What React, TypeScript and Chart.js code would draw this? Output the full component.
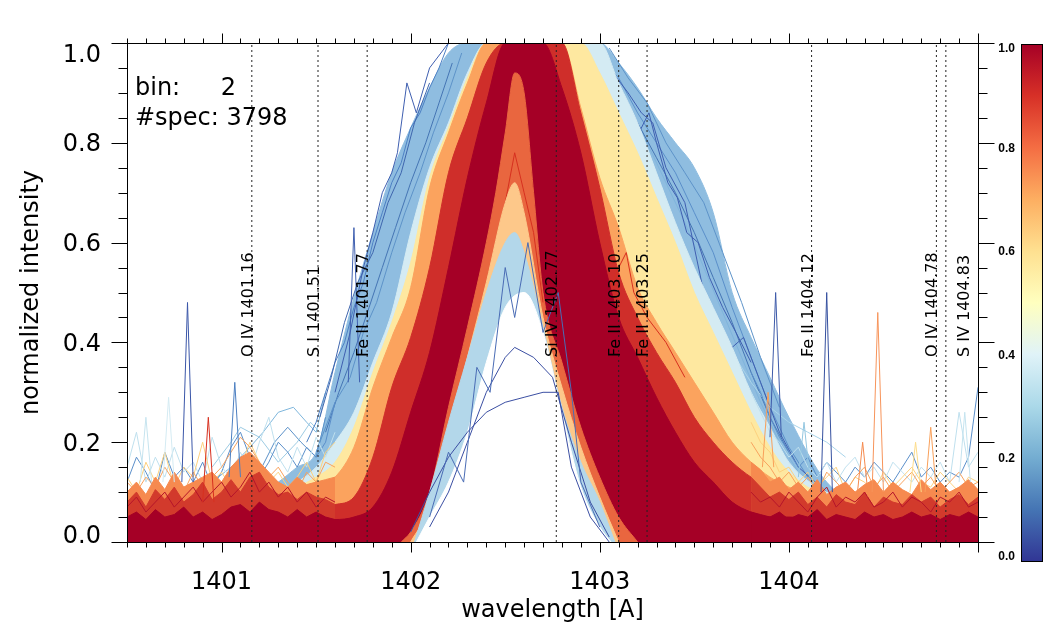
import React, { useEffect, useRef } from 'react';
import { Chart, registerables } from 'chart.js';

Chart.register(...registerables);

// wavelength grid shared by the band envelopes
const WL = [1400.5, 1400.7, 1400.9, 1401.1, 1401.3, 1401.4, 1401.5, 1401.6, 1401.7, 1401.8, 1401.9, 1402.0, 1402.1, 1402.2, 1402.3, 1402.4, 1402.5, 1402.6, 1402.7, 1402.8, 1402.9, 1403.0, 1403.1, 1403.2, 1403.3, 1403.4, 1403.5, 1403.6, 1403.7, 1403.8, 1403.9, 1404.0, 1404.2, 1404.5, 1404.8, 1405.0];

// upper envelopes of the colour groups (outer to inner)
const BAND_BLUE = [0.06, 0.06, 0.06, 0.08, 0.12, 0.15, 0.18, 0.34, 0.49, 0.62, 0.74, 0.83, 0.91, 0.98, 1, 1, 1, 1, 1, 1, 1, 1, 0.96, 0.91, 0.85, 0.8, 0.75, 0.66, 0.5, 0.41, 0.33, 0.25, 0.12, 0.06, 0.06, 0.06];
const BAND_LIGHT = [0.06, 0.06, 0.06, 0.07, 0.1, 0.12, 0.15, 0.2, 0.26, 0.36, 0.46, 0.62, 0.75, 0.84, 0.94, 1, 1, 1, 1, 1, 1, 1, 0.92, 0.84, 0.74, 0.64, 0.55, 0.47, 0.39, 0.3, 0.23, 0.16, 0.1, 0.06, 0.06, 0.06];
const BAND_YELLOW = [0.06, 0.06, 0.06, 0.07, 0.09, 0.11, 0.13, 0.16, 0.23, 0.34, 0.44, 0.56, 0.73, 0.83, 0.93, 1, 1, 1, 1, 1, 1, 0.94, 0.86, 0.78, 0.69, 0.6, 0.5, 0.42, 0.34, 0.26, 0.19, 0.14, 0.09, 0.06, 0.06, 0.06];
const BAND_ORANGE = [0.06, 0.06, 0.06, 0.07, 0.08, 0.09, 0.11, 0.13, 0.19, 0.31, 0.41, 0.51, 0.71, 0.82, 0.92, 1, 1, 1, 1, 1, 0.87, 0.73, 0.63, 0.51, 0.44, 0.38, 0.32, 0.26, 0.2, 0.16, 0.13, 0.11, 0.08, 0.06, 0.06, 0.06];
const BAND_RED = [0.05, 0.05, 0.05, 0.05, 0.055, 0.06, 0.07, 0.075, 0.09, 0.17, 0.31, 0.41, 0.55, 0.74, 0.85, 0.96, 1, 1, 1, 1, 0.86, 0.71, 0.54, 0.45, 0.38, 0.32, 0.25, 0.2, 0.16, 0.13, 0.11, 0.09, 0.07, 0.05, 0.05, 0.05];
const BAND_DARK = [0.04, 0.04, 0.04, 0.04, 0.04, 0.04, 0.045, 0.045, 0.05, 0.07, 0.14, 0.26, 0.38, 0.55, 0.73, 0.88, 1, 1, 1, 0.91, 0.78, 0.6, 0.45, 0.37, 0.29, 0.22, 0.16, 0.12, 0.08, 0.06, 0.05, 0.05, 0.045, 0.04, 0.04, 0.04];

// inside of the red "V"
const INNER_V_X = [1401.95, 1402.0, 1402.1, 1402.2, 1402.3, 1402.4, 1402.45, 1402.5, 1402.55, 1402.6, 1402.65, 1402.7, 1402.8, 1402.9, 1403.0, 1403.1, 1403.2];
const INNER_V_Y = [0, 0.02, 0.1, 0.27, 0.43, 0.6, 0.7, 0.82, 0.94, 0.9, 0.7, 0.5, 0.36, 0.23, 0.13, 0.05, 0];
const INNER_PALE_X = [1402.0, 1402.1, 1402.2, 1402.3, 1402.4, 1402.5, 1402.55, 1402.6, 1402.7, 1402.8, 1402.9, 1403.0, 1403.1];
const INNER_PALE_Y = [0, 0.07, 0.22, 0.37, 0.52, 0.68, 0.72, 0.66, 0.45, 0.31, 0.19, 0.09, 0];
const INNER_BLUE_X = [1402.02, 1402.1, 1402.2, 1402.3, 1402.4, 1402.5, 1402.55, 1402.6, 1402.7, 1402.8, 1402.9, 1403.0, 1403.08];
const INNER_BLUE_Y = [0, 0.1, 0.24, 0.37, 0.5, 0.6, 0.62, 0.58, 0.43, 0.27, 0.16, 0.08, 0];
const INNER_WHITE_X = [1402.03, 1402.1, 1402.2, 1402.3, 1402.4, 1402.5, 1402.6, 1402.7, 1402.8, 1402.9, 1403.0, 1403.06];
const INNER_WHITE_Y = [0, 0.05, 0.12, 0.22, 0.36, 0.47, 0.5, 0.42, 0.26, 0.11, 0.03, 0];

// single spectra on the flanks
const HUMP1_X = [1400.95, 1401.05, 1401.15, 1401.22, 1401.3, 1401.38, 1401.45, 1401.5, 1401.55];
const HUMP1_Y = [0.12, 0.15, 0.19, 0.22, 0.26, 0.27, 0.24, 0.22, 0.3];
const HUMP2_X = [1401.0, 1401.1, 1401.2, 1401.28, 1401.35, 1401.42, 1401.5, 1401.55];
const HUMP2_Y = [0.1, 0.17, 0.14, 0.2, 0.23, 0.2, 0.17, 0.25];
const HUMP3_X = [1400.95, 1401.05, 1401.1, 1401.2, 1401.3, 1401.4, 1401.47, 1401.52];
const HUMP3_Y = [0.15, 0.2, 0.23, 0.21, 0.16, 0.2, 0.24, 0.22];
const LEFT1_X = [1401.45, 1401.5, 1401.55, 1401.6, 1401.65, 1401.7, 1401.75, 1401.8, 1401.85, 1401.9, 1401.95, 1402.0, 1402.05, 1402.1, 1402.15, 1402.2];
const LEFT1_Y = [0.2, 0.24, 0.3, 0.36, 0.4, 0.47, 0.52, 0.6, 0.66, 0.72, 0.76, 0.83, 0.86, 0.91, 0.95, 1.0];
const LEFT2_X = [1401.6, 1401.68, 1401.75, 1401.8, 1401.85, 1401.9, 1401.93, 1401.98, 1402.03, 1402.1, 1402.2];
const LEFT2_Y = [0.3, 0.42, 0.55, 0.62, 0.7, 0.74, 0.78, 0.92, 0.86, 0.95, 1.0];
const LEFT3_X = [1401.55, 1401.62, 1401.7, 1401.78, 1401.85, 1401.92, 1402.0, 1402.08, 1402.15, 1402.22];
const LEFT3_Y = [0.22, 0.3, 0.38, 0.47, 0.55, 0.63, 0.72, 0.8, 0.88, 0.96];
const LEFT4_X = [1401.5, 1401.6, 1401.68, 1401.75, 1401.82, 1401.9, 1401.97, 1402.05, 1402.12, 1402.2, 1402.27];
const LEFT4_Y = [0.18, 0.28, 0.33, 0.42, 0.48, 0.58, 0.66, 0.74, 0.82, 0.9, 0.98];
const LEFT5_X = [1401.52, 1401.58, 1401.65, 1401.72, 1401.8, 1401.88, 1401.95, 1402.02, 1402.1];
const LEFT5_Y = [0.25, 0.33, 0.44, 0.52, 0.58, 0.68, 0.74, 0.84, 0.92];
const RIGHT1_X = [1402.95, 1403.05, 1403.15, 1403.22, 1403.28, 1403.35, 1403.45, 1403.55, 1403.62, 1403.7, 1403.76, 1403.85, 1403.95, 1404.05, 1404.2];
const RIGHT1_Y = [1.0, 0.95, 0.9, 0.86, 0.84, 0.75, 0.68, 0.5, 0.42, 0.39, 0.41, 0.32, 0.22, 0.15, 0.1];
const RIGHT2_X = [1403.0, 1403.1, 1403.2, 1403.3, 1403.4, 1403.5, 1403.6, 1403.7, 1403.8, 1403.9, 1404.0, 1404.1];
const RIGHT2_Y = [0.97, 0.93, 0.86, 0.8, 0.74, 0.66, 0.58, 0.47, 0.37, 0.27, 0.19, 0.13];
const RIGHT3_X = [1403.05, 1403.15, 1403.25, 1403.35, 1403.45, 1403.55, 1403.65, 1403.75, 1403.85, 1403.95, 1404.05];
const RIGHT3_Y = [0.95, 0.88, 0.8, 0.72, 0.64, 0.55, 0.46, 0.37, 0.28, 0.2, 0.14];
const RIGHT4_X = [1403.7, 1403.8, 1403.9, 1404.0, 1404.1, 1404.2, 1404.3];
const RIGHT4_Y = [0.38, 0.32, 0.27, 0.24, 0.22, 0.2, 0.17];
const RIGHT5_X = [1403.0, 1403.1, 1403.2, 1403.3, 1403.4, 1403.5, 1403.6, 1403.7, 1403.8, 1403.9, 1404.0];
const RIGHT5_Y = [0.95, 0.9, 0.84, 0.77, 0.7, 0.62, 0.53, 0.44, 0.34, 0.25, 0.18];
const RIGHT6_X = [1403.05, 1403.15, 1403.25, 1403.35, 1403.45, 1403.55, 1403.65, 1403.75, 1403.85, 1403.95];
const RIGHT6_Y = [0.99, 0.93, 0.88, 0.8, 0.74, 0.68, 0.58, 0.48, 0.37, 0.27];
const RIGHT7_X = [1403.1, 1403.18, 1403.26, 1403.3, 1403.36, 1403.41, 1403.46, 1403.52, 1403.58, 1403.65, 1403.72, 1403.8];
const RIGHT7_Y = [0.88, 0.8, 0.86, 0.8, 0.72, 0.69, 0.62, 0.6, 0.53, 0.47, 0.42, 0.36];
const FE_BUMP_X = [1403.0, 1403.05, 1403.1, 1403.14, 1403.18, 1403.25, 1403.35, 1403.45];
const FE_BUMP_Y = [0.6, 0.5, 0.55, 0.58, 0.5, 0.45, 0.4, 0.33];
const CORE_RED_X = [1402.4, 1402.45, 1402.5, 1402.55, 1402.6, 1402.65, 1402.7];
const CORE_RED_Y = [0.5, 0.6, 0.68, 0.78, 0.7, 0.62, 0.48];

// faint blue spectra in the line core
const WEAK1_X = [1402.0, 1402.1, 1402.2, 1402.3, 1402.4, 1402.5, 1402.6, 1402.7, 1402.78, 1402.85, 1402.95, 1403.05];
const WEAK1_Y = [0.02, 0.1, 0.17, 0.22, 0.26, 0.28, 0.29, 0.3, 0.3, 0.15, 0.05, 0.0];
const WEAK2_X = [1402.1, 1402.2, 1402.3, 1402.4, 1402.5, 1402.55, 1402.65, 1402.75, 1402.85, 1402.95, 1403.05];
const WEAK2_Y = [0.03, 0.1, 0.2, 0.3, 0.37, 0.39, 0.37, 0.33, 0.2, 0.08, 0.01];
const WEAK3_X = [1402.1, 1402.2, 1402.28, 1402.35, 1402.42, 1402.5, 1402.55, 1402.62, 1402.7, 1402.78, 1402.85, 1402.9, 1403.0];
const WEAK3_Y = [0.05, 0.18, 0.12, 0.35, 0.3, 0.55, 0.45, 0.6, 0.42, 0.5, 0.3, 0.12, 0.03];

// continuum noise, blue wing and red wing
const LW = [1400.5, 1400.55, 1400.6, 1400.65, 1400.7, 1400.75, 1400.8, 1400.85, 1400.9, 1400.95, 1401.0, 1401.05, 1401.1, 1401.15, 1401.2, 1401.25, 1401.3, 1401.35, 1401.4, 1401.45, 1401.5, 1401.55, 1401.6];
const LW_BLUE = [0.12, 0.17, 0.14, 0.1, 0.18, 0.13, 0.15, 0.12, 0.16, 0.11, 0.14, 0.19, 0.22, 0.17, 0.13, 0.16, 0.2, 0.18, 0.15, 0.19, 0.17, 0.2, 0.28];
const LW_LIGHT = [0.15, 0.22, 0.12, 0.17, 0.13, 0.19, 0.14, 0.16, 0.12, 0.21, 0.15, 0.13, 0.18, 0.14, 0.2, 0.25, 0.17, 0.14, 0.19, 0.15, 0.21, 0.17, 0.22];
const LW_YELLOW = [0.13, 0.1, 0.16, 0.12, 0.18, 0.11, 0.15, 0.13, 0.2, 0.12, 0.14, 0.11, 0.15, 0.2, 0.16, 0.12, 0.14, 0.11, 0.13, 0.16, 0.12, 0.18, 0.2];
const LW_ORANGE_LINE = [0.12, 0.1, 0.13, 0.11, 0.15, 0.12, 0.1, 0.14, 0.11, 0.13, 0.15, 0.18, 0.21, 0.19, 0.16, 0.13, 0.15, 0.12, 0.1, 0.14, 0.12, 0.16, 0.15];
const LW_ORANGE = [0.1, 0.12, 0.095, 0.13, 0.105, 0.14, 0.11, 0.12, 0.13, 0.14, 0.12, 0.15, 0.17, 0.18, 0.16, 0.14, 0.12, 0.11, 0.13, 0.115, 0.12, 0.125, 0.13];
const LW_RED = [0.08, 0.1, 0.07, 0.105, 0.085, 0.11, 0.08, 0.095, 0.12, 0.085, 0.1, 0.125, 0.1, 0.13, 0.14, 0.11, 0.095, 0.1, 0.085, 0.1, 0.09, 0.085, 0.075];
const LW_DARK = [0.05, 0.06, 0.045, 0.065, 0.05, 0.055, 0.07, 0.05, 0.06, 0.045, 0.055, 0.07, 0.075, 0.06, 0.08, 0.065, 0.06, 0.05, 0.065, 0.05, 0.06, 0.05, 0.045];
const LW_DARK_LINE = [0.07, 0.09, 0.06, 0.08, 0.1, 0.07, 0.09, 0.11, 0.08, 0.1, 0.12, 0.09, 0.11, 0.14, 0.1, 0.12, 0.09, 0.11, 0.08, 0.1, 0.07, 0.09, 0.08];

const RW = [1403.8, 1403.85, 1403.9, 1403.95, 1404.0, 1404.05, 1404.1, 1404.15, 1404.2, 1404.25, 1404.3, 1404.35, 1404.4, 1404.45, 1404.5, 1404.55, 1404.6, 1404.65, 1404.7, 1404.75, 1404.8, 1404.85, 1404.9, 1404.95, 1405.0];
const RW_BLUE = [0.34, 0.3, 0.25, 0.21, 0.18, 0.15, 0.17, 0.13, 0.16, 0.14, 0.12, 0.15, 0.13, 0.16, 0.14, 0.12, 0.15, 0.18, 0.13, 0.15, 0.12, 0.14, 0.13, 0.17, 0.31];
const RW_LIGHT = [0.3, 0.26, 0.22, 0.2, 0.17, 0.19, 0.15, 0.13, 0.16, 0.12, 0.15, 0.17, 0.13, 0.15, 0.12, 0.16, 0.14, 0.12, 0.15, 0.13, 0.16, 0.12, 0.26, 0.15, 0.18];
const RW_YELLOW = [0.24, 0.2, 0.18, 0.14, 0.15, 0.12, 0.14, 0.11, 0.13, 0.15, 0.1, 0.13, 0.12, 0.1, 0.14, 0.11, 0.13, 0.15, 0.12, 0.11, 0.14, 0.12, 0.1, 0.13, 0.12];
const RW_ORANGE_LINE = [0.2, 0.17, 0.15, 0.12, 0.14, 0.11, 0.13, 0.1, 0.14, 0.12, 0.1, 0.13, 0.15, 0.11, 0.13, 0.1, 0.12, 0.14, 0.11, 0.13, 0.1, 0.12, 0.14, 0.11, 0.12];
const RW_ORANGE = [0.16, 0.145, 0.12, 0.13, 0.105, 0.12, 0.1, 0.125, 0.095, 0.11, 0.12, 0.1, 0.115, 0.125, 0.1, 0.12, 0.105, 0.095, 0.125, 0.105, 0.12, 0.1, 0.11, 0.125, 0.105];
const RW_RED = [0.13, 0.11, 0.09, 0.1, 0.085, 0.1, 0.075, 0.09, 0.07, 0.095, 0.08, 0.075, 0.1, 0.07, 0.09, 0.08, 0.075, 0.095, 0.08, 0.09, 0.07, 0.085, 0.095, 0.075, 0.09];
const RW_DARK = [0.06, 0.055, 0.05, 0.06, 0.045, 0.055, 0.05, 0.065, 0.045, 0.055, 0.05, 0.045, 0.06, 0.05, 0.055, 0.045, 0.05, 0.06, 0.05, 0.055, 0.045, 0.055, 0.05, 0.06, 0.05];
const RW_DARK_LINE = [0.1, 0.08, 0.09, 0.07, 0.1, 0.08, 0.06, 0.09, 0.11, 0.07, 0.09, 0.08, 0.1, 0.07, 0.08, 0.1, 0.07, 0.09, 0.08, 0.06, 0.09, 0.08, 0.1, 0.07, 0.08];

// narrow spikes: centre, peak, base, colour
const SPIKE_AT = [1400.6, 1400.72, 1400.82, 1400.93, 1401.07, 1401.7, 1403.89, 1403.93, 1404.08, 1404.2, 1404.39, 1404.47, 1404.67, 1404.75, 1404.93];
const SPIKE_TOP = [0.25, 0.29, 0.48, 0.25, 0.32, 0.63, 0.3, 0.5, 0.24, 0.5, 0.2, 0.46, 0.2, 0.23, 0.26];
const SPIKE_BASE = [0.12, 0.12, 0.12, 0.08, 0.13, 0.32, 0.15, 0.21, 0.13, 0.1, 0.09, 0.1, 0.1, 0.1, 0.12];
const SPIKE_COLOR = ['#c6e4ef', '#d4ebf3', '#3a56a8', '#d7301f', '#4c7fc1', '#4060b0', '#f9a05a', '#3d5aa9', '#93c6e0', '#35509f', '#f58a4e', '#f7945a', '#fddc8a', '#f9a05a', '#c4e3ef'];

// reference lines
const LINE_WL = [1401.16, 1401.51, 1401.77, 1402.77, 1403.10, 1403.25, 1404.12, 1404.78, 1404.83];
const LINE_NAME = ['O IV 1401.16', 'S I 1401.51', 'Fe II 1401.77', 'Si IV 1402.77', 'Fe II 1403.10', 'Fe II 1403.25', 'Fe II 1404.12', 'O IV 1404.78', 'S IV 1404.83'];
const LINE_SHIFT = [0, 0, 0, 0, 0, 0, 0, 0, 22];

const X_TICKS = [1401, 1402, 1403, 1404];
const Y_TICKS = [0, 0.2, 0.4, 0.6, 0.8, 1.0];
const CB_TICKS = [0, 0.2, 0.4, 0.6, 0.8, 1.0];
const CB_COLORS = ['#313695', '#4575b4', '#74add1', '#abd9e9', '#e0f3f8', '#ffffbf', '#fee090', '#fdae61', '#f46d43', '#d73027', '#a50026'];

const FONT = "'DejaVu Sans', sans-serif";

type Series = { x: number[]; y: number[]; color: string; fill?: boolean; smooth?: boolean; width?: number; dash?: number[] };

const pts = (xs: number[], ys: number[]) => xs.map((x, i) => ({ x, y: ys[i] }));

const spikes: Series[] = SPIKE_AT.map((w, i) => ({
  x: [w - 0.03, w, w + 0.03],
  y: [SPIKE_BASE[i], SPIKE_TOP[i], SPIKE_BASE[i]],
  color: SPIKE_COLOR[i],
}));

// back to front
const LAYERS: Series[] = [
  { x: WL, y: BAND_BLUE, color: '#8fbde0', fill: true, smooth: true },
  { x: HUMP2_X, y: HUMP2_Y, color: '#5a90c8' },
  { x: HUMP1_X, y: HUMP1_Y, color: '#7eb6dc' },
  { x: HUMP3_X, y: HUMP3_Y, color: '#9ccbe3' },
  { x: LEFT1_X, y: LEFT1_Y, color: '#4d80c4' },
  { x: LEFT3_X, y: LEFT3_Y, color: '#4575b4' },
  { x: LEFT4_X, y: LEFT4_Y, color: '#5d93c9' },
  { x: LEFT5_X, y: LEFT5_Y, color: '#3f66ae' },
  { x: LEFT2_X, y: LEFT2_Y, color: '#3f5fb0' },
  { x: RIGHT2_X, y: RIGHT2_Y, color: '#5a8fca' },
  { x: RIGHT3_X, y: RIGHT3_Y, color: '#7fb4dc' },
  { x: RIGHT5_X, y: RIGHT5_Y, color: '#4575b4' },
  { x: RIGHT6_X, y: RIGHT6_Y, color: '#5d93c9' },
  { x: RIGHT7_X, y: RIGHT7_Y, color: '#3f5fb0' },
  { x: RIGHT1_X, y: RIGHT1_Y, color: '#3f5fb0' },
  { x: RIGHT4_X, y: RIGHT4_Y, color: '#a9d4ea' },
  { x: WL, y: BAND_LIGHT, color: '#d4ebf3', fill: true, smooth: true },
  { x: WL, y: BAND_YELLOW, color: '#fee8a0', fill: true, smooth: true },
  { x: WL, y: BAND_ORANGE, color: '#fba35e', fill: true, smooth: true },
  { x: WL, y: BAND_RED, color: '#cf2e2a', fill: true, smooth: true },
  { x: FE_BUMP_X, y: FE_BUMP_Y, color: '#d7301f' },
  { x: LW, y: LW_BLUE, color: '#5b8fca' },
  { x: RW, y: RW_BLUE, color: '#5b8fca' },
  { x: LW, y: LW_LIGHT, color: '#bfe0ee' },
  { x: RW, y: RW_LIGHT, color: '#bfe0ee' },
  { x: LW, y: LW_YELLOW, color: '#fdd17f' },
  { x: RW, y: RW_YELLOW, color: '#fdd17f' },
  { x: LW, y: LW_ORANGE_LINE, color: '#f9a35e' },
  { x: RW, y: RW_ORANGE_LINE, color: '#f9a35e' },
  { x: LW, y: LW_ORANGE, color: '#f68a4f', fill: true },
  { x: RW, y: RW_ORANGE, color: '#f68a4f', fill: true },
  { x: LW, y: LW_RED, color: '#d23a2c', fill: true },
  { x: RW, y: RW_RED, color: '#d23a2c', fill: true },
  { x: LW, y: LW_DARK_LINE, color: '#b5142a' },
  { x: RW, y: RW_DARK_LINE, color: '#b5142a' },
  { x: WL, y: BAND_DARK, color: '#a50026', fill: true, smooth: true },
  { x: LW, y: LW_DARK, color: '#a50026', fill: true },
  { x: RW, y: RW_DARK, color: '#a50026', fill: true },
  ...spikes,
  { x: INNER_V_X, y: INNER_V_Y, color: '#e9663f', fill: true, smooth: true },
  { x: CORE_RED_X, y: CORE_RED_Y, color: '#d7301f' },
  { x: INNER_PALE_X, y: INNER_PALE_Y, color: '#fdc88a', fill: true, smooth: true },
  { x: INNER_BLUE_X, y: INNER_BLUE_Y, color: '#b3d7ea', fill: true, smooth: true },
  { x: INNER_WHITE_X, y: INNER_WHITE_Y, color: '#ffffff', fill: true, smooth: true },
  { x: WEAK1_X, y: WEAK1_Y, color: '#3b4fa3' },
  { x: WEAK2_X, y: WEAK2_Y, color: '#3b4fa3' },
  { x: WEAK3_X, y: WEAK3_Y, color: '#4a6cb5' },
  ...LINE_WL.map((w) => ({ x: [w, w], y: [0, 1], color: '#222222', dash: [2, 3] })),
];

const line = (ctx: CanvasRenderingContext2D, x1: number, y1: number, x2: number, y2: number) => {
  ctx.beginPath();
  ctx.moveTo(x1, y1);
  ctx.lineTo(x2, y2);
  ctx.stroke();
};

const decorations = {
  id: 'decorations',
  afterDraw(chart: any) {
    const { ctx, chartArea: a, scales } = chart;
    const xs = scales.x;
    const ys = scales.y;
    ctx.save();
    ctx.strokeStyle = '#000';
    ctx.lineWidth = 1;
    const L = Math.round(a.left) + 0.5;
    const R = Math.round(a.right) + 0.5;
    const T = Math.round(a.top) + 0.5;
    const B = Math.round(a.bottom) + 0.5;
    ctx.strokeRect(L, T, R - L, B - T);

    // y ticks every 0.05, both sides, outward
    for (let i = 0; i <= 20; i++) {
      const py = Math.round(ys.getPixelForValue(i * 0.05)) + 0.5;
      const len = i % 4 === 0 ? 16 : 9;
      line(ctx, L - len, py, L, py);
      line(ctx, R, py, R + len, py);
    }
    // x ticks every 0.1, top and bottom, outward
    for (let i = 0; i <= 45; i++) {
      const px = Math.round(xs.getPixelForValue(1400.5 + i * 0.1)) + 0.5;
      const len = (i + 5) % 10 === 0 ? 10 : 5;
      line(ctx, px, B, px, B + len);
      line(ctx, px, T - len, px, T);
    }

    ctx.fillStyle = '#000';
    ctx.font = `24px ${FONT}`;
    ctx.textBaseline = 'alphabetic';
    ctx.textAlign = 'center';
    X_TICKS.forEach((v) => ctx.fillText(String(v), xs.getPixelForValue(v), 589));
    ctx.textAlign = 'right';
    Y_TICKS.forEach((v) => {
      const base = Math.min(543, Math.max(62, ys.getPixelForValue(v) + 8.5));
      ctx.fillText(v.toFixed(1), 101, base);
    });
    ctx.textAlign = 'center';
    ctx.fillText('wavelength [A]', (a.left + a.right) / 2, 617);
    ctx.save();
    ctx.translate(38, (a.top + a.bottom) / 2);
    ctx.rotate(-Math.PI / 2);
    ctx.fillText('normalized intensity', 0, 0);
    ctx.restore();

    ctx.textAlign = 'left';
    ctx.fillText('bin:', 135, 95);
    ctx.textAlign = 'right';
    ctx.fillText('2', 236, 95);
    ctx.textAlign = 'left';
    ctx.fillText('#spec: 3798', 135, 125);

    // line identifications
    ctx.font = `16px ${FONT}`;
    LINE_WL.forEach((w, i) => {
      ctx.save();
      ctx.translate(xs.getPixelForValue(w) + 1 + LINE_SHIFT[i], 357);
      ctx.rotate(-Math.PI / 2);
      ctx.textAlign = 'left';
      ctx.fillText(LINE_NAME[i], 0, 0);
      ctx.restore();
    });

    // colour bar
    const cbL = 1021;
    const cbR = 1042;
    const cbT = 44;
    const cbB = 561;
    const g = ctx.createLinearGradient(0, cbB, 0, cbT);
    CB_COLORS.forEach((c, i) => g.addColorStop(i / (CB_COLORS.length - 1), c));
    ctx.fillStyle = g;
    ctx.fillRect(cbL, cbT, cbR - cbL, cbB - cbT);
    ctx.strokeRect(cbL + 0.5, cbT + 0.5, cbR - cbL, cbB - cbT);
    ctx.fillStyle = '#000';
    ctx.font = `bold 12px 'Liberation Sans', Arial, sans-serif`;
    ctx.textAlign = 'right';
    CB_TICKS.forEach((v) => {
      const base = Math.min(560, Math.max(52, cbB - v * (cbB - cbT) + 4.5));
      ctx.fillText(v.toFixed(1), 1015, base);
    });
    ctx.restore();
  },
};

export default function App() {
  const canvasRef = useRef<HTMLCanvasElement | null>(null);

  useEffect(() => {
    if (!canvasRef.current) return;
    const n = LAYERS.length;
    const chart = new Chart(canvasRef.current, {
      type: 'line',
      data: {
        datasets: LAYERS.map((s, i) => ({
          data: pts(s.x, s.y),
          borderColor: s.color,
          backgroundColor: s.color,
          borderWidth: s.width ?? 1,
          borderDash: s.dash ?? [],
          fill: s.fill ? 'origin' : false,
          cubicInterpolationMode: s.smooth ? 'monotone' : 'default',
          tension: 0,
          pointRadius: 0,
          order: n - i,
        })),
      },
      options: {
        responsive: true,
        maintainAspectRatio: false,
        animation: false,
        events: [],
        layout: { padding: { left: 127, top: 43, right: 84, bottom: 95 } },
        scales: {
          x: { type: 'linear', min: 1400.5, max: 1405, display: false },
          y: { type: 'linear', min: 0, max: 1, display: false },
        },
        plugins: { legend: { display: false }, tooltip: { enabled: false } },
      },
      plugins: [decorations],
    });
    return () => chart.destroy();
  }, []);

  return (
    <div style={{ position: 'absolute', left: 0, top: 0, width: 1062, height: 637, background: '#fff' }}>
      <canvas ref={canvasRef} />
    </div>
  );
}
